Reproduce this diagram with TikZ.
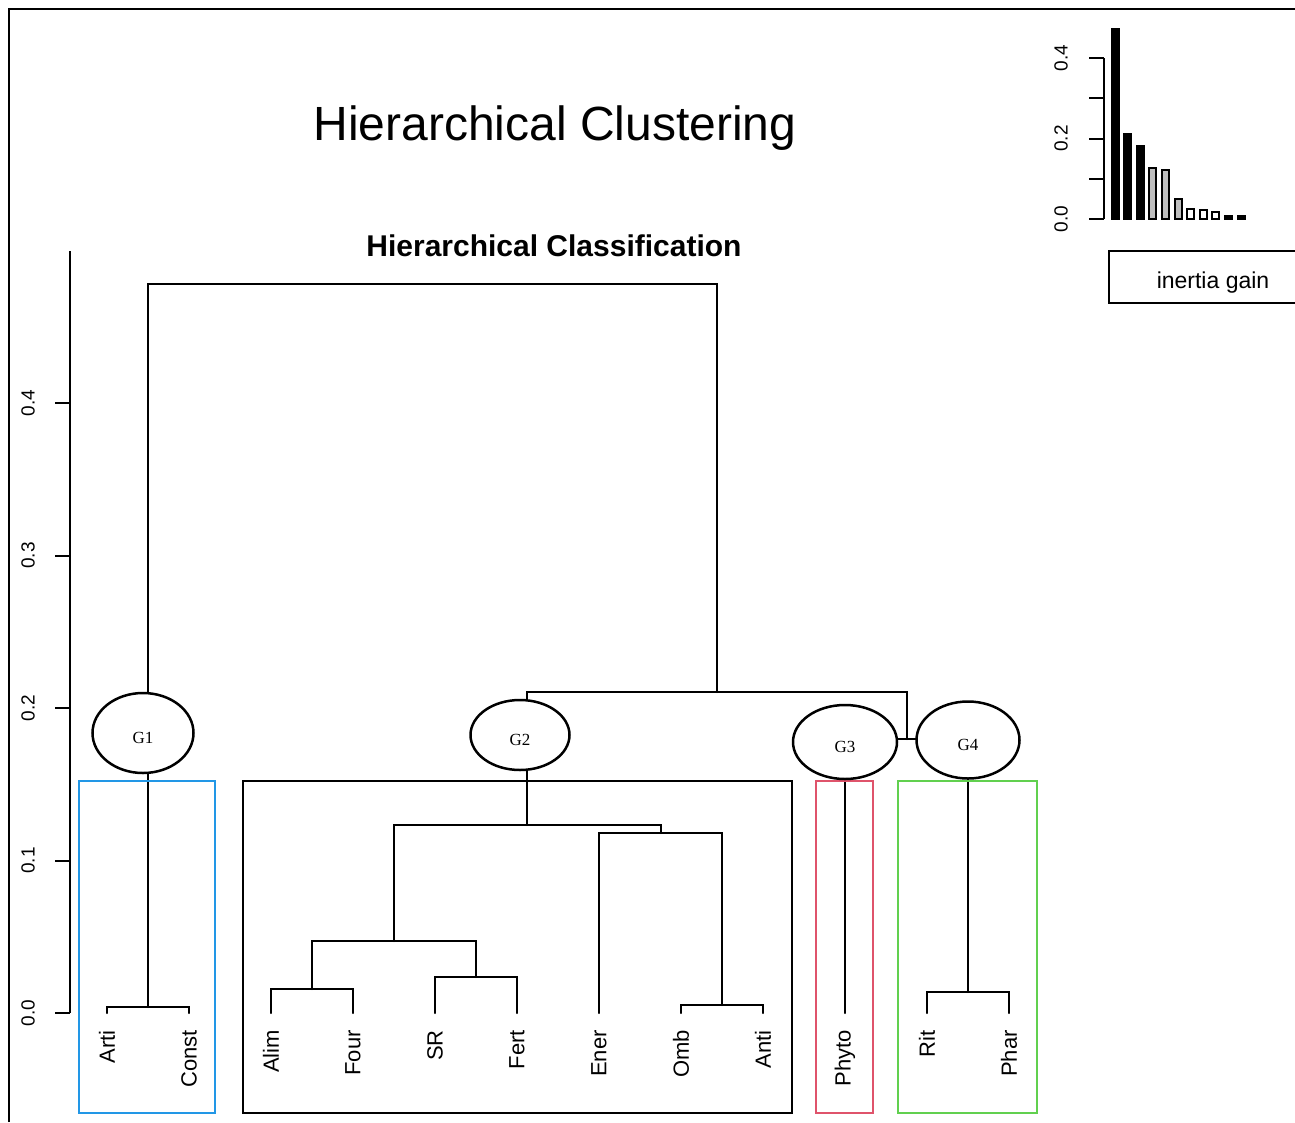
\documentclass[tikz,border=0pt]{standalone}
\usepackage{fontspec}
\setmainfont{Liberation Sans}
\newfontfamily\grpfont{Liberation Serif}
\usetikzlibrary{shapes.geometric}

\definecolor{grpred}{HTML}{DF536B}
\definecolor{grpgreen}{HTML}{61D04F}
\definecolor{grpblue}{HTML}{2297E6}
\definecolor{bargray}{HTML}{BEBEBE}

\newcommand{\fsz}[1]{\fontsize{#1}{#1}\selectfont}

\tikzset{
  frame/.style={line width=2pt},
  link/.style={line width=2pt, line cap=round},
  axis/.style={line width=2pt},
  grpbox/.style={line width=2pt},
  bar/.style={line width=2pt, draw=black},
  title/.style={anchor=base, inner sep=0pt, font=\fsz{48}},
  subtitle/.style={anchor=base, inner sep=0pt, font=\bfseries\fsz{30}},
  ticklbl/.style={rotate=90, inner sep=0pt, font=\fsz{19}},
  leaf/.style={rotate=90, anchor=east, inner sep=0pt, font=\fsz{22}},
  grp/.style={draw, ellipse, line width=2.5pt, fill=white, inner sep=0pt,
    text height=21pt, text depth=0pt, font=\grpfont\fsz{17}},
  gainbox/.style={draw, line width=2pt, minimum width=208pt, minimum height=52pt,
    text height=22pt, text depth=0pt, font=\fsz{23}}
}

\begin{document}
\begin{tikzpicture}[x=1pt, y=-1pt]
\useasboundingbox (0,0) rectangle (1295,1122);
\clip (0,0) rectangle (1295,1122);

% frame
\draw[frame] (9,1122) |- (1295,9);

% titles
\node[title] (main) at (555,140) {Hierarchical Clustering};
\node[subtitle] (sub) at (554,256) {Hierarchical Classification};

% height axis
\draw[axis] (70,251) -- (70,1013);
\foreach \v [count=\i from 0] in {0.0,0.1,0.2,0.3,0.4} {
  \draw[axis] (55,{1013-152.5*\i}) -- (70,{1013-152.5*\i});
  \node[ticklbl] (h\i) at (28,{1013-152.5*\i}) {\v};
}

% leaves
\foreach \lf [count=\i from 0] in {Arti,Const,Alim,Four,SR,Fert,Ener,Omb,Anti,Phyto,Rit,Phar} {
  \coordinate (\lf) at ({107+82*\i},1013);
  \node[leaf] (lbl\lf) at ({107+82*\i},1030) {\lf};
}

% merges
\coordinate (mAC) at (148,1007);
\coordinate (mAF) at (312,989);
\coordinate (mSF) at (476,977);
\coordinate (mAS) at (394,941);
\coordinate (mOA) at (722,1005);
\coordinate (mEO) at (660.5,833);
\coordinate (mG2) at (527,825);
\coordinate (mRP) at (968,992);
\coordinate (mG34) at (906.5,739);
\coordinate (mG234) at (716.7,692);
\coordinate (root) at (432,284);

\foreach \a/\m/\b in {Arti/mAC/Const, Alim/mAF/Four, SR/mSF/Fert, mAF/mAS/mSF,
    Omb/mOA/Anti, Ener/mEO/mOA, mAS/mG2/mEO, Rit/mRP/Phar, Phyto/mG34/mRP,
    mG2/mG234/mG34, mAC/root/mG234}
  \draw[link] (\a) |- (\m) -| (\b);

% group boxes
\draw[grpbox, grpblue] (79,781) rectangle (215,1113);
\draw[grpbox, black] (243,781) rectangle (792,1113);
\draw[grpbox, grpred] (816,781) rectangle (873,1113);
\draw[grpbox, grpgreen] (898,781) rectangle (1037,1113);

% groups
\node[grp, minimum width=101pt, minimum height=80pt] (G1) at (143,733) {G1};
\node[grp, minimum width=99pt, minimum height=70pt] (G2) at (520,735) {G2};
\node[grp, minimum width=104pt, minimum height=74pt] (G3) at (845,742) {G3};
\node[grp, minimum width=103pt, minimum height=77pt] (G4) at (968,740) {G4};

% inertia gain inset
\draw[axis] (1104,58) -- (1104,219);
\foreach \i in {0,...,4}
  \draw[axis] (1089,{219-40.25*\i}) -- (1104,{219-40.25*\i});
\foreach \v/\i in {0.0/0,0.2/2,0.4/4}
  \node[ticklbl] (g\i) at (1061,{219-40.25*\i}) {\v};
\foreach \t/\c [count=\i from 0] in {29/black,134/black,146/black,168/bargray,
    170/bargray,199/bargray,209/white,210/white,212/white,216/black,216/black}
  \draw[bar, fill=\c] ({1111.5+12.6*\i},219) rectangle ({1118.5+12.6*\i},\t);
\node[gainbox] (gain) at (1213,277) {inertia gain};
\end{tikzpicture}
\end{document}
